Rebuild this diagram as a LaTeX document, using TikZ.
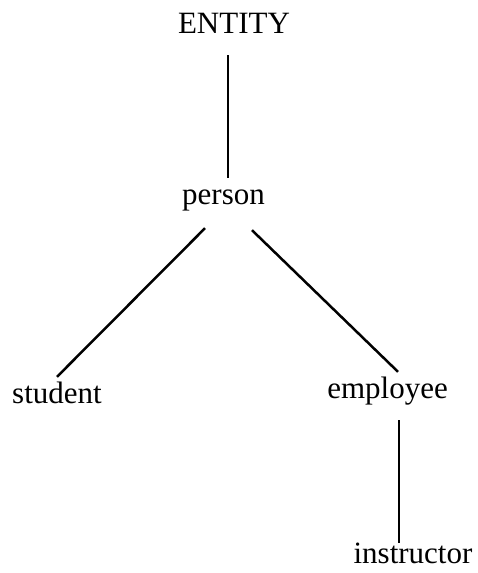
\documentclass[tikz,border=0pt]{standalone}
\usepackage{fontspec}
\setmainfont{Liberation Serif}
\usepackage{tikz}
\usetikzlibrary{positioning}

\begin{document}
\begin{tikzpicture}[x=1pt, y=-1pt,
    word/.style={font=\fontsize{31}{36}\selectfont, inner sep=0pt,
                 text height=21pt, text depth=7pt, anchor=base},
    isa/.style={draw=black, line width=2pt}
]
    \useasboundingbox (0,0) rectangle (478,573);
    % hierarchy levels
    \node[word] (entity) at (234,33) {ENTITY};
    \node[word] (person) at (223.5,204) {person};
    \node[word] (student) at (57,403) {student};
    \node[word] (employee) at (387.5,398) {employee};
    \node[word] (instructor) at (413,563) {instructor};

    % links
    \draw[isa] ([xshift=-6pt,yshift=-15pt]entity.south) -- ([xshift=4.5pt,yshift=5pt]person.north);
    \draw[isa, line width=2.5pt] ([xshift=-18.5pt,yshift=-17pt]person.south) -- ([yshift=5pt]student.north);
    \draw[isa, line width=2.5pt] ([xshift=28.5pt,yshift=-19pt]person.south) -- ([xshift=10.5pt,yshift=5pt]employee.north);
    \draw[isa] ([xshift=11.5pt,yshift=-15pt]employee.south) -- ([xshift=-14pt,yshift=-1pt]instructor.north);
\end{tikzpicture}
\end{document}
